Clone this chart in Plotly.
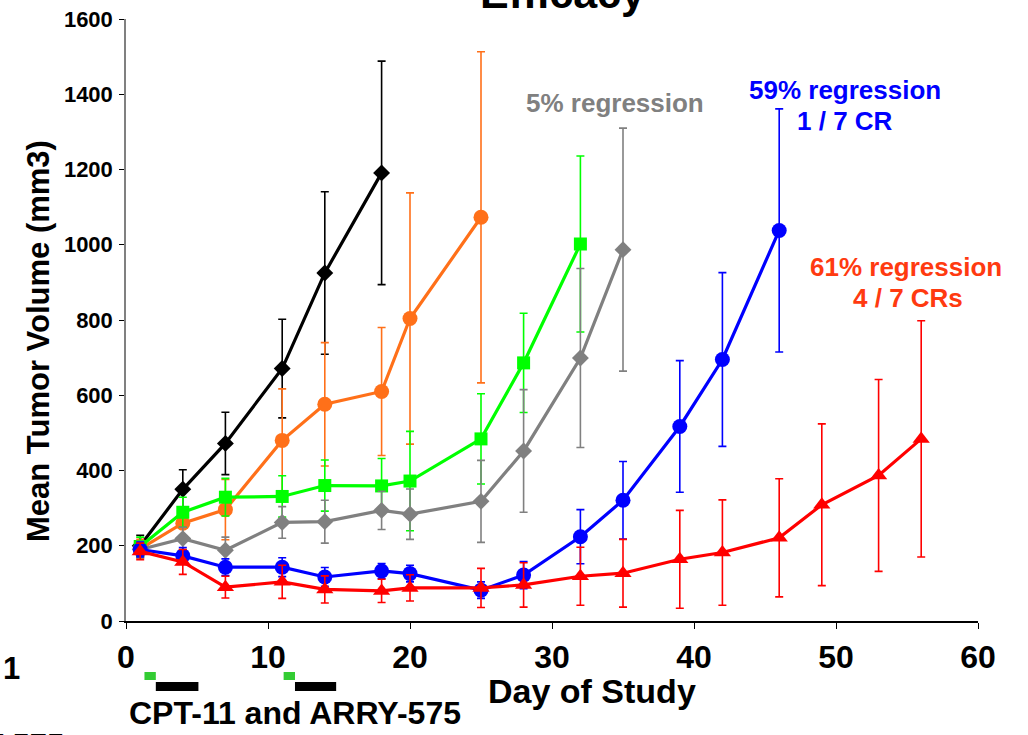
import plotly.graph_objects as go

# ---------------- data ----------------
days_control = [1, 4, 7, 11, 14, 18]
vol_control = [200, 350, 472, 671, 925, 1191]
err_control = [28, 52, 83, 131, 216, 297]

days_orange = [1, 4, 7, 11, 14, 18, 20, 25]
vol_orange = [192, 260, 296, 480, 576, 610, 804, 1073]
err_orange = [25, 35, 80, 137, 164, 170, 334, 440]

days_green = [1, 4, 7, 11, 14, 18, 20, 25, 28, 32]
vol_green = [198, 289, 329, 331, 360, 359, 372, 484, 686, 1002]
err_green = [25, 40, 50, 55, 68, 73, 132, 120, 132, 234]

days_gray = [1, 4, 7, 11, 14, 18, 20, 25, 28, 32, 35]
vol_gray = [190, 219, 188, 262, 264, 294, 284, 318, 452, 699, 987]
err_gray = [22, 30, 35, 42, 57, 51, 67, 109, 163, 238, 323]

days_blue = [1, 4, 7, 11, 14, 18, 20, 25, 28, 32, 35, 39, 42, 46]
vol_blue = [190, 173, 143, 143, 117, 133, 126, 82, 122, 224, 321, 517, 695, 1038]
err_blue = [20, 22, 22, 25, 25, 20, 22, 22, 36, 72, 103, 175, 231, 323]

days_red = [1, 4, 7, 11, 14, 18, 20, 25, 28, 32, 35, 39, 42, 46, 49, 53, 56]
vol_red = [185, 157, 90, 104, 84, 80, 88, 88, 96, 119, 127, 164, 182, 221, 309, 387, 484]
err_red = [22, 33, 29, 44, 36, 31, 35, 52, 59, 77, 90, 130, 140, 157, 215, 255, 314]

x_ticks = [0, 10, 20, 30, 40, 50, 60]
y_ticks = [0, 200, 400, 600, 800, 1000, 1200, 1400, 1600]

# dosing schedule (day ranges)
dose_green = [(1.3, 2.1), (11.1, 11.9)]
dose_black = [(2.1, 5.1), (11.9, 14.8)]

# ---------------- layout helpers ----------------
W, H = 1028, 735
ML, MR, MT, MB = 126, 50, 19, 114
PW, PH = W - ML - MR, H - MT - MB


def px(x):
    return (x - ML) / PW


def py(y):
    return (H - MB - y) / PH


FONT = "Liberation Sans, Arial, sans-serif"

fig = go.Figure()


def add_series(x, y, err, color, symbol, size):
    fig.add_trace(go.Scatter(
        x=x, y=y, mode="lines+markers",
        line=dict(color=color, width=3.2),
        marker=dict(symbol=symbol, size=size, color=color),
        error_y=dict(type="data", array=err, visible=True, color=color,
                     thickness=1.6, width=4),
        showlegend=False, cliponaxis=False,
    ))


add_series(days_control, vol_control, err_control, "#000000", "diamond", 13)
add_series(days_orange, vol_orange, err_orange, "#FF7019", "circle", 15)
add_series(days_green, vol_green, err_green, "#00FF00", "square", 13)
add_series(days_gray, vol_gray, err_gray, "#808080", "diamond", 13)
add_series(days_blue, vol_blue, err_blue, "#0000FF", "circle", 15)
add_series(days_red, vol_red, err_red, "#FF0000", "triangle-up", 15)

shapes = []
for a, b in dose_green:
    shapes.append(dict(type="rect", xref="x", yref="paper", x0=a, x1=b,
                       y0=py(680), y1=py(672), fillcolor="#33CC33",
                       line=dict(width=0)))
for a, b in dose_black:
    shapes.append(dict(type="rect", xref="x", yref="paper", x0=a, x1=b,
                       y0=py(691), y1=py(682), fillcolor="#000000",
                       line=dict(width=0)))

bold = lambda s: f"<b>{s}</b>"
annotations = [
    dict(text=bold("Efficacy"), x=px(562), y=py(19), xref="paper", yref="paper",
         xanchor="center", yanchor="bottom", showarrow=False,
         font=dict(size=43, color="#000000", family=FONT)),
    dict(text=bold("Mean Tumor Volume (mm3)"), x=px(38), y=py(341),
         xref="paper", yref="paper", xanchor="center", yanchor="middle",
         textangle=-90, showarrow=False,
         font=dict(size=31, color="#000000", family=FONT)),
    dict(text=bold("Day of Study"), x=px(592), y=py(691), xref="paper",
         yref="paper", xanchor="center", yanchor="middle", showarrow=False,
         font=dict(size=34, color="#000000", family=FONT)),
    dict(text=bold("CPT-11 and ARRY-575"), x=px(295), y=py(713), xref="paper",
         yref="paper", xanchor="center", yanchor="middle", showarrow=False,
         font=dict(size=32, color="#000000", family=FONT)),
    dict(text=bold("1"), x=px(11), y=py(668), xref="paper", yref="paper",
         xanchor="center", yanchor="middle", showarrow=False,
         font=dict(size=31, color="#000000", family=FONT)),
    dict(text=bold("RY-575"), x=px(66), y=py(726), xref="paper", yref="paper",
         xanchor="right", yanchor="top", showarrow=False,
         font=dict(size=31, color="#000000", family=FONT)),
    dict(text=bold("5% regression"), x=px(615), y=py(103), xref="paper",
         yref="paper", xanchor="center", yanchor="middle", showarrow=False,
         font=dict(size=26, color="#808080", family=FONT)),
    dict(text=bold("59% regression"), x=px(845), y=py(90), xref="paper",
         yref="paper", xanchor="center", yanchor="middle", showarrow=False,
         font=dict(size=26, color="#0000FF", family=FONT)),
    dict(text=bold("1 / 7 CR"), x=px(845), y=py(121), xref="paper",
         yref="paper", xanchor="center", yanchor="middle", showarrow=False,
         font=dict(size=26, color="#0000FF", family=FONT)),
    dict(text=bold("61% regression"), x=px(906), y=py(267), xref="paper",
         yref="paper", xanchor="center", yanchor="middle", showarrow=False,
         font=dict(size=26, color="#FF3A10", family=FONT)),
    dict(text=bold("4 / 7 CRs"), x=px(908), y=py(298), xref="paper",
         yref="paper", xanchor="center", yanchor="middle", showarrow=False,
         font=dict(size=26, color="#FF3A10", family=FONT)),
]

fig.update_layout(
    width=W, height=H,
    margin=dict(l=ML, r=MR, t=MT, b=MB),
    paper_bgcolor="white", plot_bgcolor="white",
    font=dict(family=FONT, color="#000000"),
    shapes=shapes, annotations=annotations,
    xaxis=dict(range=[0, 60], tickvals=x_ticks,
               ticktext=[bold(v) for v in x_ticks],
               showgrid=False, zeroline=False, showline=True,
               linecolor="#000000", linewidth=1.5,
               ticks="outside", ticklen=6, tickcolor="#000000", tickwidth=1,
               tickfont=dict(size=32, family=FONT, color="#000000"),
               ticklabelstandoff=1, automargin=False),
    yaxis=dict(range=[0, 1600], tickvals=y_ticks,
               ticktext=[bold(v) for v in y_ticks],
               showgrid=False, zeroline=False, showline=True,
               linecolor="#808080", linewidth=1.5,
               ticks="outside", ticklen=5, tickcolor="#000000", tickwidth=1,
               tickfont=dict(size=22, family=FONT, color="#000000"),
               ticklabelstandoff=2, automargin=False),
)

fig.write_html("out.html")
